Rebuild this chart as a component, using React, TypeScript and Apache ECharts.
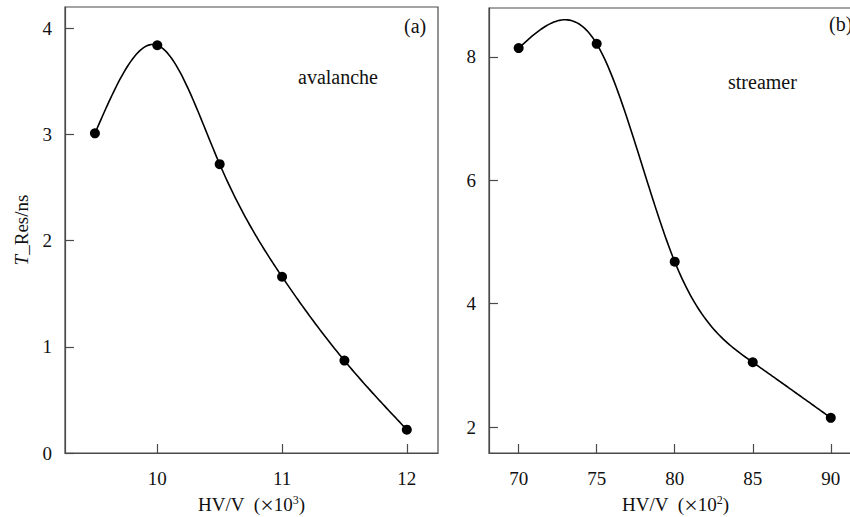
import React, { useEffect, useRef } from "react";
import * as echarts from "echarts";

// Panel (a): avalanche mode
const voltageA = [9.5, 10, 10.5, 11, 11.5, 12];
const timeA = [3.01, 3.84, 2.72, 1.66, 0.87, 0.22];
// Panel (b): streamer mode
const voltageB = [70, 75, 80, 85, 90];
const timeB = [8.14, 8.21, 4.68, 3.05, 2.15];

const xTicksA = [10, 11, 12];
const yTicksA = [0, 1, 2, 3, 4];
const xTicksB = [70, 75, 80, 85, 90];
const yTicksB = [2, 4, 6, 8];

const FONT = "Liberation Serif, Times New Roman, serif";
const AXIS_COLOR = "#4a4a4a";
const TEXT_COLOR = "#111";
const FS = 19;
const FS_NOTE = 20;

// natural cubic spline second derivatives (used only to draw the connecting curve)
function splineM(xs: number[], ys: number[]) {
  const n = xs.length;
  const M = new Array(n).fill(0);
  if (n < 3) return M;
  const a: number[] = [], b: number[] = [], c: number[] = [], d: number[] = [];
  for (let i = 1; i < n - 1; i++) {
    const h0 = xs[i] - xs[i - 1];
    const h1 = xs[i + 1] - xs[i];
    a.push(h0);
    b.push(2 * (h0 + h1));
    c.push(h1);
    d.push(6 * ((ys[i + 1] - ys[i]) / h1 - (ys[i] - ys[i - 1]) / h0));
  }
  const m = b.length;
  for (let i = 1; i < m; i++) {
    const w = a[i] / b[i - 1];
    b[i] -= w * c[i - 1];
    d[i] -= w * d[i - 1];
  }
  const sol = new Array(m).fill(0);
  sol[m - 1] = d[m - 1] / b[m - 1];
  for (let i = m - 2; i >= 0; i--) sol[i] = (d[i] - c[i] * sol[i + 1]) / b[i];
  for (let i = 0; i < m; i++) M[i + 1] = sol[i];
  return M;
}

function splineSeries(xs: number[], ys: number[], axisIndex: number) {
  const M = splineM(xs, ys);
  return {
    type: "custom",
    xAxisIndex: axisIndex,
    yAxisIndex: axisIndex,
    coordinateSystem: "cartesian2d",
    data: xs.map((x, i) => [x, ys[i]]),
    encode: { x: 0, y: 1 },
    silent: true,
    renderItem: (params: any, api: any) => {
      const i = params.dataIndex;
      if (i >= xs.length - 1) return null;
      const x0 = xs[i], x1 = xs[i + 1];
      const h = x1 - x0;
      const pts: number[][] = [];
      const steps = 40;
      for (let k = 0; k <= steps; k++) {
        const x = x0 + (h * k) / steps;
        const A = (x1 - x) / h;
        const B = (x - x0) / h;
        const y =
          A * ys[i] + B * ys[i + 1] +
          (((A * A * A - A) * M[i] + (B * B * B - B) * M[i + 1]) * h * h) / 6;
        pts.push(api.coord([x, y]));
      }
      return {
        type: "polyline",
        shape: { points: pts },
        style: { stroke: "#000", lineWidth: 1.6, fill: null },
      };
    },
  };
}

function axis(extra: any, ticks: number[], margin: number) {
  return {
    type: "value",
    axisLine: { show: true, onZero: false, lineStyle: { color: AXIS_COLOR, width: 1.2 } },
    splitLine: { show: false },
    axisTick: {
      show: true,
      inside: true,
      length: 9,
      customValues: ticks,
      lineStyle: { color: AXIS_COLOR, width: 1.2 },
    },
    axisLabel: {
      color: TEXT_COLOR,
      fontSize: FS,
      fontFamily: FONT,
      margin,
      customValues: ticks,
    },
    ...extra,
  };
}

const xName = (p: string) => `HV/V  ({cross|×}10{sup|${p}})`;
const nameStyle = {
  color: TEXT_COLOR,
  fontSize: FS,
  fontFamily: FONT,
  lineHeight: 22,
  rich: {
    cross: { fontSize: 24, lineHeight: 22, fontFamily: FONT, color: TEXT_COLOR },
    sup: { fontSize: 12, lineHeight: 15, verticalAlign: "top", fontFamily: FONT, color: TEXT_COLOR },
  },
};

export default function App() {
  const ref = useRef<HTMLDivElement>(null);
  useEffect(() => {
    if (!ref.current) return;
    const chart = echarts.init(ref.current, undefined, { renderer: "svg" });
    const pointsA = voltageA.map((v, i) => [v, timeA[i]]);
    const pointsB = voltageB.map((v, i) => [v, timeB[i]]);
    chart.setOption({
      animation: false,
      backgroundColor: "#fff",
      textStyle: { fontFamily: FONT },
      grid: [
        {
          left: 65, top: 7, width: 373, height: 446,
          show: true, borderColor: AXIS_COLOR, borderWidth: 1.2,
          containLabel: false, outerBoundsMode: "none",
        },
        {
          left: 489, top: 8, width: 373, height: 445,
          show: true, borderColor: AXIS_COLOR, borderWidth: 1.2,
          containLabel: false, outerBoundsMode: "none",
        },
      ],
      xAxis: [
        axis(
          {
            gridIndex: 0, min: 9.26, max: 12.25,
            name: xName("3"), nameLocation: "middle", nameGap: 38, nameTextStyle: nameStyle,
          },
          xTicksA, 16
        ),
        axis(
          {
            gridIndex: 1, min: 68.1, max: 92,
            name: xName("2"), nameLocation: "middle", nameGap: 38, nameTextStyle: nameStyle,
          },
          xTicksB, 16
        ),
      ],
      yAxis: [
        axis(
          {
            gridIndex: 0, min: 0, max: 4.2,
            name: "{i|T}_Res/ns", nameLocation: "middle", nameGap: 34,
            nameTextStyle: {
              color: TEXT_COLOR, fontSize: FS, fontFamily: FONT,
              rich: { i: { fontStyle: "italic", fontSize: FS, fontFamily: FONT, color: TEXT_COLOR } },
            },
          },
          yTicksA, 13
        ),
        axis({ gridIndex: 1, min: 1.58, max: 8.79 }, yTicksB, 13),
      ],
      series: [
        splineSeries(voltageA, timeA, 0),
        splineSeries(voltageB, timeB, 1),
        {
          type: "scatter",
          xAxisIndex: 0, yAxisIndex: 0,
          data: pointsA,
          symbol: "circle", symbolSize: 10,
          itemStyle: { color: "#000", opacity: 1 },
        },
        {
          type: "scatter",
          xAxisIndex: 1, yAxisIndex: 1,
          data: pointsB,
          symbol: "circle", symbolSize: 10,
          itemStyle: { color: "#000", opacity: 1 },
        },
      ],
      graphic: [
        { type: "text", left: 404, top: 16, style: { text: "(a)", fontSize: FS_NOTE, fontFamily: FONT, fill: TEXT_COLOR } },
        { type: "text", left: 298, top: 67, style: { text: "avalanche", fontSize: FS_NOTE, fontFamily: FONT, fill: TEXT_COLOR } },
        { type: "text", left: 728, top: 72, style: { text: "streamer", fontSize: FS_NOTE, fontFamily: FONT, fill: TEXT_COLOR } },
        { type: "text", left: 829, top: 14, style: { text: "(b)", fontSize: FS_NOTE, fontFamily: FONT, fill: TEXT_COLOR } },
      ],
    });
    return () => chart.dispose();
  }, []);
  return (
    <div
      ref={ref}
      style={{ position: "fixed", left: 0, top: 0, width: 850, height: 517, background: "#fff" }}
    />
  );
}
